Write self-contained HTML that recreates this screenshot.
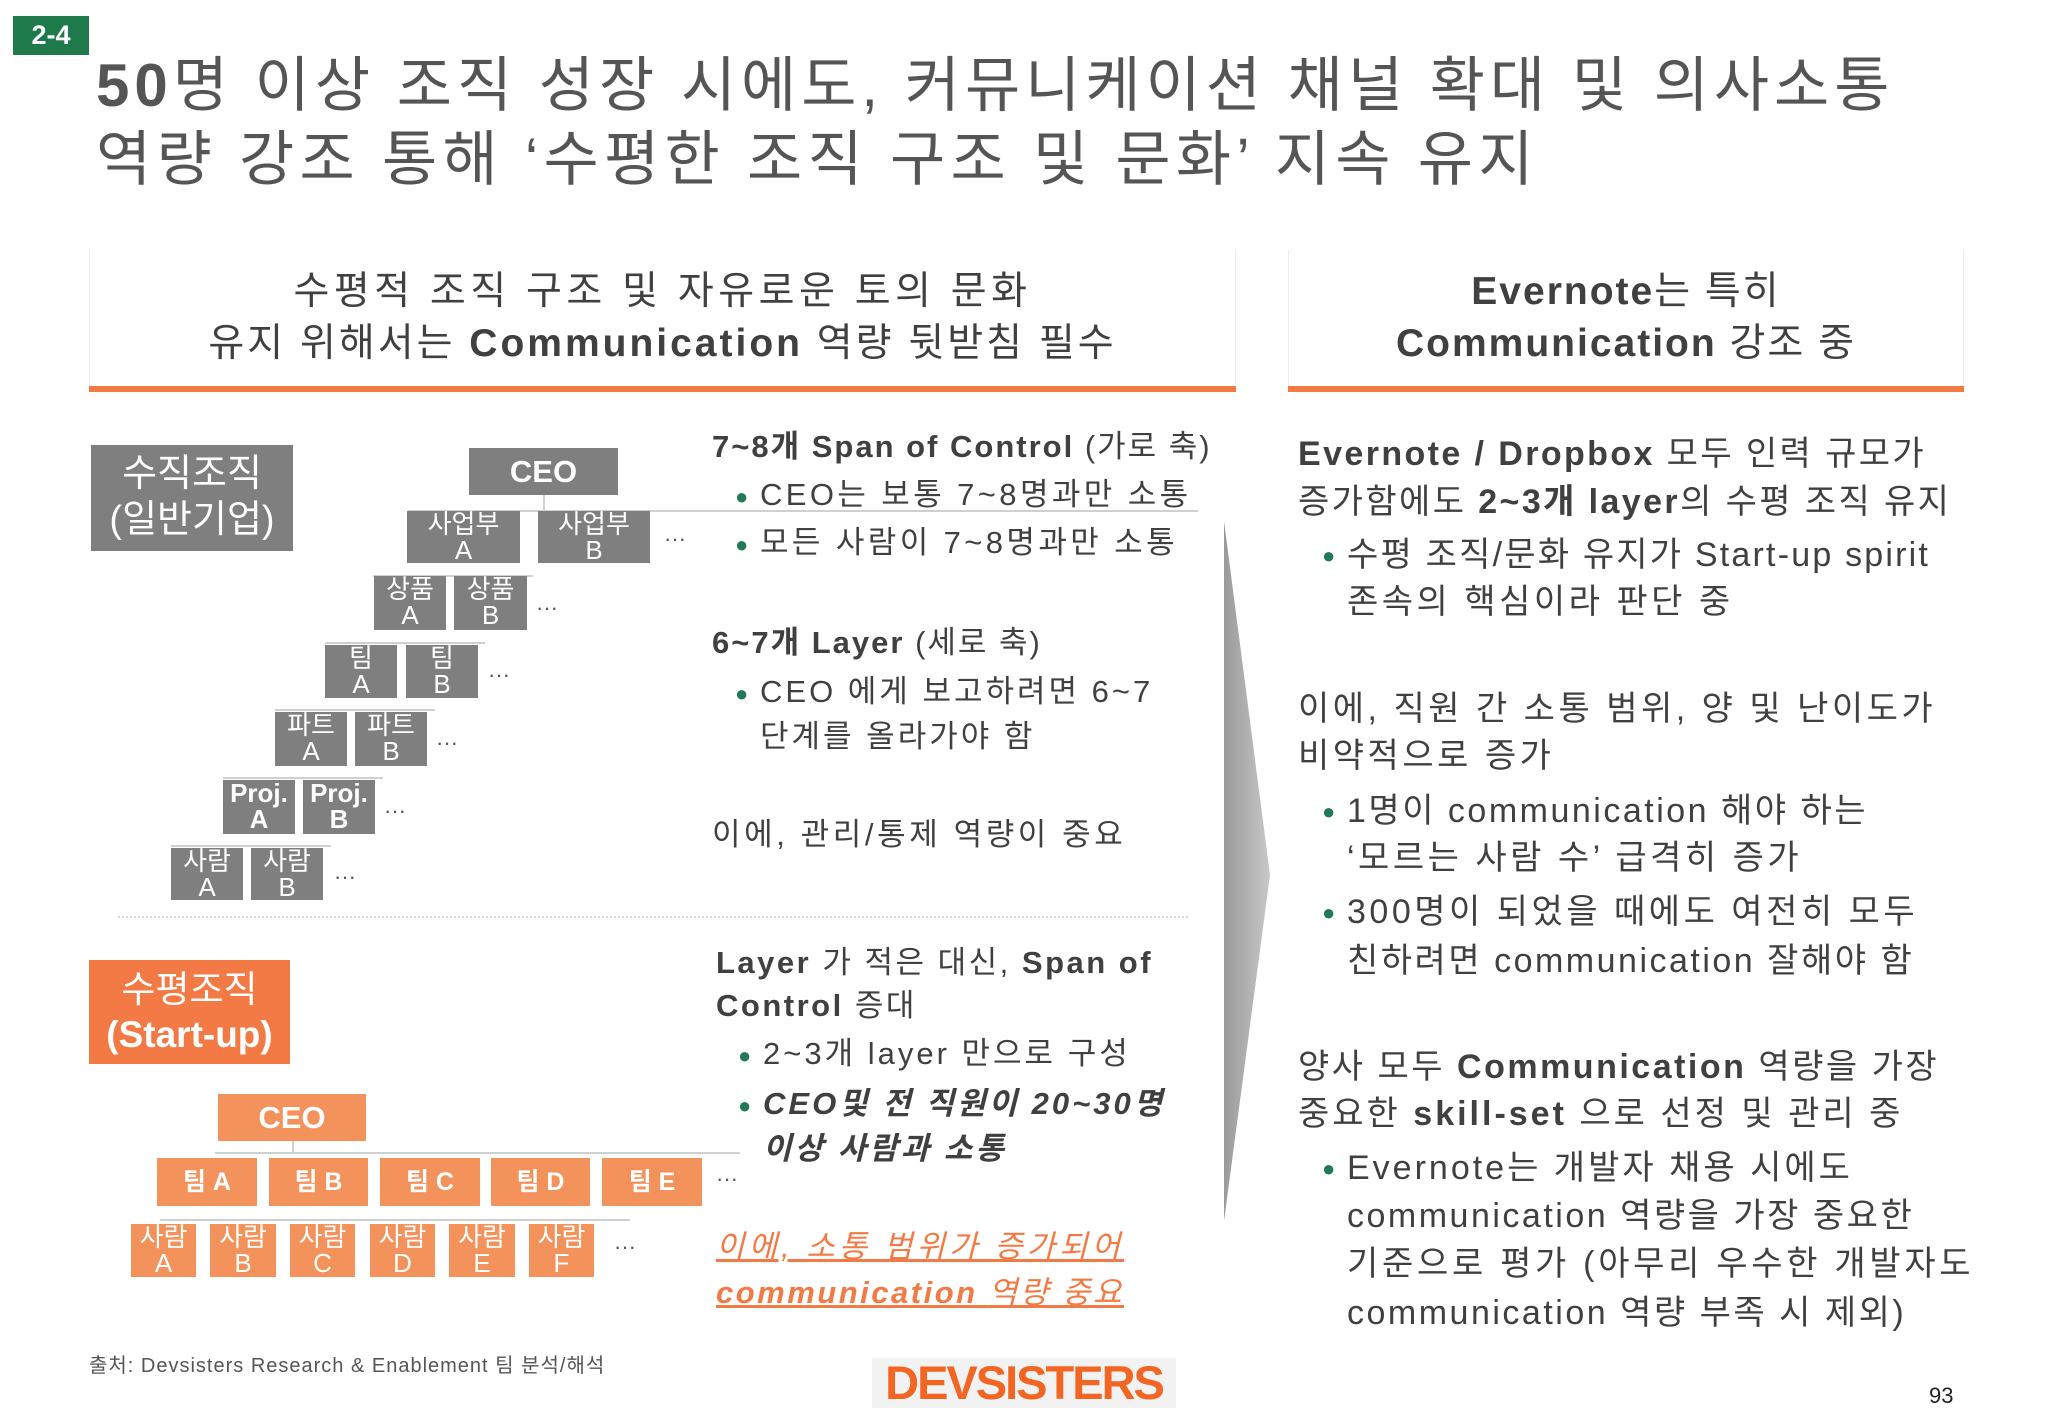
<!DOCTYPE html>
<html><head><meta charset="utf-8">
<style>
*{margin:0;padding:0;box-sizing:border-box}
body{width:2048px;height:1418px;background:#fff;position:relative;overflow:hidden;font-family:"Liberation Sans","Noto Sans CJK KR",sans-serif;color:#404040}
.a{position:absolute;white-space:nowrap}
.t{position:absolute;white-space:nowrap;line-height:1;letter-spacing:3px}
.b{font-weight:bold}
.g{position:absolute;background:#7f7f7f;color:#fff;text-align:center;font-size:26px;line-height:26px;padding-top:0;overflow:hidden}
.o{position:absolute;background:#f4925c;color:#fff;text-align:center;font-size:25px;overflow:hidden}
.ln{position:absolute;background:#d0d0d0}
.dots{position:absolute;font-size:22px;color:#555;line-height:1}
.bul{color:#1f7a55;font-size:22px;position:absolute}
</style></head><body>
<div class="a b" style="left:13px;top:16px;width:76px;height:39px;background:#1e7a4a;color:#fff;font-size:27px;line-height:39px;text-align:center">2-4</div>
<div class="t" style="left:96px;top:56px;font-size:60px;color:#555;letter-spacing:5px"><b>50</b>명 이상 조직 성장 시에도, 커뮤니케이션 채널 확대 및 의사소통</div>
<div class="t" style="left:96px;top:130px;font-size:60px;color:#555;letter-spacing:5.3px">역량 강조 통해 ‘수평한 조직 구조 및 문화’ 지속 유지</div>

<div class="a" style="left:89px;top:250px;width:1147px;height:138px;border-left:1px solid #eee;border-right:1px solid #eee"></div>
<div class="t" style="left:89px;width:1147px;text-align:center;top:272px;font-size:39px;letter-spacing:4.5px">수평적 조직 구조 및 자유로운 토의 문화</div>
<div class="t" style="left:89px;width:1147px;text-align:center;top:324px;font-size:39px;letter-spacing:3px">유지 위해서는 <b>Communication</b> 역량 뒷받침 필수</div>
<div class="a" style="left:89px;top:386px;width:1147px;height:6px;background:#f47a42"></div>

<div class="a" style="left:1288px;top:250px;width:676px;height:138px;border-left:1px solid #eee;border-right:1px solid #eee"></div>
<div class="t b" style="left:1288px;width:676px;text-align:center;top:272px;font-size:39px;letter-spacing:2px">Evernote<span style="font-weight:normal">는 특히</span></div>
<div class="t b" style="left:1288px;width:676px;text-align:center;top:324px;font-size:39px;letter-spacing:2px">Communication <span style="font-weight:normal">강조 중</span></div>
<div class="a" style="left:1288px;top:386px;width:676px;height:6px;background:#f47a42"></div>

<!-- vertical org -->
<div class="g" style="left:91px;top:445px;width:202px;height:106px;font-size:38px;line-height:46px;padding-top:6px">수직조직<br>(일반기업)</div>
<div class="g b" style="left:469px;top:448px;width:149px;height:47px;font-size:31px;line-height:47px;padding:0">CEO</div>
<div class="ln" style="left:543px;top:495px;width:2px;height:15px"></div>
<div class="ln" style="left:408px;top:510px;width:790px;height:2px"></div>
<div class="g" style="left:407px;top:511px;width:113px;height:52px">사업부<br>A</div>
<div class="g" style="left:538px;top:511px;width:112px;height:52px">사업부<br>B</div>
<div class="dots" style="left:664px;top:528px">···</div>
<div class="ln" style="left:373px;top:575px;width:160px;height:2px"></div>
<div class="g" style="left:374px;top:576px;width:72px;height:54px">상품<br>A</div>
<div class="g" style="left:454px;top:576px;width:73px;height:54px">상품<br>B</div>
<div class="dots" style="left:536px;top:597px">···</div>
<div class="ln" style="left:325px;top:642px;width:160px;height:2px"></div>
<div class="g" style="left:325px;top:645px;width:72px;height:53px">팀<br>A</div>
<div class="g" style="left:406px;top:645px;width:72px;height:53px">팀<br>B</div>
<div class="dots" style="left:488px;top:664px">···</div>
<div class="ln" style="left:275px;top:709px;width:160px;height:2px"></div>
<div class="g" style="left:275px;top:712px;width:72px;height:54px">파트<br>A</div>
<div class="g" style="left:355px;top:712px;width:72px;height:54px">파트<br>B</div>
<div class="dots" style="left:436px;top:732px">···</div>
<div class="ln" style="left:223px;top:777px;width:160px;height:2px"></div>
<div class="g b" style="left:223px;top:780px;width:72px;height:54px">Proj.<br>A</div>
<div class="g b" style="left:303px;top:780px;width:72px;height:54px">Proj.<br>B</div>
<div class="dots" style="left:384px;top:800px">···</div>
<div class="ln" style="left:171px;top:845px;width:160px;height:2px"></div>
<div class="g" style="left:171px;top:848px;width:72px;height:52px">사람<br>A</div>
<div class="g" style="left:251px;top:848px;width:72px;height:52px">사람<br>B</div>
<div class="dots" style="left:334px;top:866px">···</div>

<div class="t b" style="left:712px;top:431px;font-size:31px;letter-spacing:2px">7~8개 Span of Control <span style="font-weight:normal">(가로 축)</span></div>
<div class="bul" style="left:735px;top:484px">●</div>
<div class="t" style="left:760px;top:479px;font-size:31px;letter-spacing:3.4px">CEO는 보통 7~8명과만 소통</div>
<div class="bul" style="left:735px;top:532px">●</div>
<div class="t" style="left:760px;top:527px;font-size:31px;letter-spacing:3.4px">모든 사람이 7~8명과만 소통</div>
<div class="t b" style="left:712px;top:627px;font-size:31px;letter-spacing:2px">6~7개 Layer <span style="font-weight:normal">(세로 축)</span></div>
<div class="bul" style="left:735px;top:681px">●</div>
<div class="t" style="left:760px;top:676px;font-size:31px">CEO 에게 보고하려면 6~7</div>
<div class="t" style="left:760px;top:721px;font-size:31px">단계를 올라가야 함</div>
<div class="t" style="left:712px;top:819px;font-size:31px;letter-spacing:3.6px">이에, 관리/통제 역량이 중요</div>

<div class="a" style="left:118px;top:916px;width:1070px;border-top:2px dotted #d8d8d8"></div>

<!-- horizontal org -->
<div class="o" style="left:89px;top:960px;width:201px;height:104px;background:#f37a44;font-size:37px;line-height:45px;padding-top:7px">수평조직<br><b>(Start-up)</b></div>
<div class="o b" style="left:218px;top:1094px;width:148px;height:47px;font-size:31px;line-height:47px">CEO</div>
<div class="ln" style="left:292px;top:1141px;width:2px;height:12px"></div>
<div class="ln" style="left:215px;top:1152px;width:525px;height:2px"></div>
<div class="o b" style="left:157px;top:1158px;width:100px;height:48px;line-height:48px">팀 A</div>
<div class="o b" style="left:269px;top:1158px;width:99px;height:48px;line-height:48px">팀 B</div>
<div class="o b" style="left:380px;top:1158px;width:100px;height:48px;line-height:48px">팀 C</div>
<div class="o b" style="left:491px;top:1158px;width:99px;height:48px;line-height:48px">팀 D</div>
<div class="o b" style="left:602px;top:1158px;width:100px;height:48px;line-height:48px">팀 E</div>
<div class="dots" style="left:716px;top:1168px">···</div>
<div class="ln" style="left:160px;top:1219px;width:470px;height:2px"></div>
<div class="o" style="left:131px;top:1224px;width:65px;height:53px;line-height:26px;font-size:26px">사람<br>A</div>
<div class="o" style="left:210px;top:1224px;width:66px;height:53px;line-height:26px;font-size:26px">사람<br>B</div>
<div class="o" style="left:290px;top:1224px;width:65px;height:53px;line-height:26px;font-size:26px">사람<br>C</div>
<div class="o" style="left:370px;top:1224px;width:65px;height:53px;line-height:26px;font-size:26px">사람<br>D</div>
<div class="o" style="left:449px;top:1224px;width:66px;height:53px;line-height:26px;font-size:26px">사람<br>E</div>
<div class="o" style="left:529px;top:1224px;width:65px;height:53px;line-height:26px;font-size:26px">사람<br>F</div>
<div class="dots" style="left:614px;top:1236px">···</div>

<div class="t b" style="left:716px;top:947px;font-size:31px;letter-spacing:2.5px">Layer <span style="font-weight:normal">가 적은 대신,</span> Span of</div>
<div class="t b" style="left:716px;top:990px;font-size:31px;letter-spacing:2.5px">Control <span style="font-weight:normal">증대</span></div>
<div class="bul" style="left:738px;top:1043px">●</div>
<div class="t" style="left:763px;top:1038px;font-size:31px">2~3개 layer 만으로 구성</div>
<div class="bul" style="left:738px;top:1093px">●</div>
<div class="t b" style="left:763px;top:1088px;font-size:31px;font-style:italic">CEO및 전 직원이 20~30명</div>
<div class="t b" style="left:763px;top:1133px;font-size:31px;font-style:italic">이상 사람과 소통</div>
<div class="t" style="left:716px;top:1231px;font-size:31px;color:#f37a44;font-style:italic;text-decoration:underline;letter-spacing:4px">이에, 소통 범위가 증가되어</div>
<div class="t b" style="left:716px;top:1277px;font-size:31px;color:#f37a44;font-style:italic;text-decoration:underline;letter-spacing:2.5px">communication <span style="font-weight:normal">역량 중요</span></div>

<!-- arrow -->
<svg class="a" style="left:1220px;top:515px" width="54" height="712">
<defs><linearGradient id="gr" x1="0" x2="1"><stop offset="0" stop-color="#9a9a9a"/><stop offset="1" stop-color="#c8c8c8"/></linearGradient></defs>
<polygon points="4,6 50,360 4,706" fill="url(#gr)"/></svg>

<!-- right column -->
<div class="t" style="left:1298px;top:437px;font-size:34px;letter-spacing:2.4px"><b>Evernote / Dropbox</b> 모두 인력 규모가</div>
<div class="t" style="left:1298px;top:485px;font-size:34px;letter-spacing:2.4px">증가함에도 <b>2~3개 layer</b>의 수평 조직 유지</div>
<div class="bul" style="left:1322px;top:543px">●</div>
<div class="t" style="left:1347px;top:538px;font-size:34px;letter-spacing:2.2px">수평 조직/문화 유지가 Start-up spirit</div>
<div class="t" style="left:1347px;top:585px;font-size:34px;letter-spacing:3.5px">존속의 핵심이라 판단 중</div>
<div class="t" style="left:1298px;top:692px;font-size:34px;letter-spacing:3.5px">이에, 직원 간 소통 범위, 양 및 난이도가</div>
<div class="t" style="left:1298px;top:739px;font-size:34px;letter-spacing:3.5px">비약적으로 증가</div>
<div class="bul" style="left:1322px;top:799px">●</div>
<div class="t" style="left:1347px;top:794px;font-size:34px;letter-spacing:2.5px">1명이 communication 해야 하는</div>
<div class="t" style="left:1347px;top:841px;font-size:34px;letter-spacing:3.5px">‘모르는 사람 수’ 급격히 증가</div>
<div class="bul" style="left:1322px;top:900px">●</div>
<div class="t" style="left:1347px;top:895px;font-size:34px;letter-spacing:3.5px">300명이 되었을 때에도 여전히 모두</div>
<div class="t" style="left:1347px;top:944px;font-size:34px;letter-spacing:2.5px">친하려면 communication 잘해야 함</div>
<div class="t" style="left:1298px;top:1050px;font-size:34px;letter-spacing:2.5px">양사 모두 <b>Communication</b> 역량을 가장</div>
<div class="t" style="left:1298px;top:1097px;font-size:34px;letter-spacing:3px">중요한 <b>skill-set</b> 으로 선정 및 관리 중</div>
<div class="bul" style="left:1322px;top:1156px">●</div>
<div class="t" style="left:1347px;top:1151px;font-size:34px;letter-spacing:3px">Evernote는 개발자 채용 시에도</div>
<div class="t" style="left:1347px;top:1199px;font-size:34px;letter-spacing:2.5px">communication 역량을 가장 중요한</div>
<div class="t" style="left:1347px;top:1247px;font-size:34px;letter-spacing:3.7px">기준으로 평가 (아무리 우수한 개발자도</div>
<div class="t" style="left:1347px;top:1296px;font-size:34px;letter-spacing:2.5px">communication 역량 부족 시 제외)</div>

<div class="t" style="left:89px;top:1356px;font-size:20px;color:#555;letter-spacing:1px">출처: Devsisters Research &amp; Enablement 팀 분석/해석</div>
<div class="t b" style="left:872px;top:1358px;width:304px;height:50px;background:#f2f2f2;color:#f26522;font-size:47px;line-height:50px;text-align:center;letter-spacing:-2px">DEVSISTERS</div>
<div class="t" style="left:1929px;top:1385px;font-size:22px;color:#222;letter-spacing:0">93</div>
</body></html>
